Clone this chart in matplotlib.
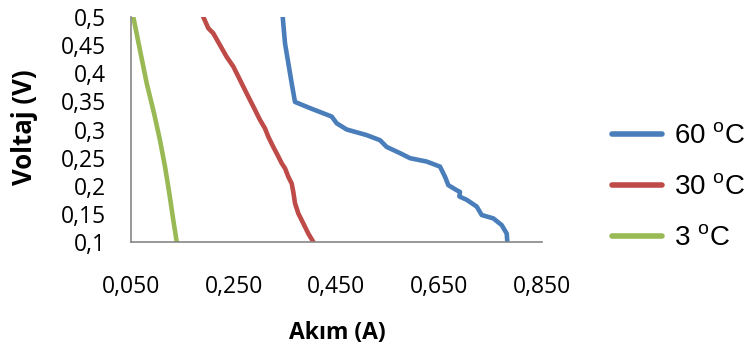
import matplotlib
matplotlib.use("Agg")
import matplotlib.pyplot as plt
from matplotlib.ticker import FixedLocator, FuncFormatter

plt.rcParams["mathtext.fontset"] = "custom"
plt.rcParams["mathtext.rm"] = "Liberation Sans"

# Current (A) and voltage (V) readings for each temperature
current_60 = [0.3453, 0.3498, 0.3562, 0.3628, 0.3692, 0.3984, 0.4407, 0.4504, 0.4699,
              0.5088, 0.5347, 0.5477, 0.5736, 0.5931, 0.6256, 0.6515, 0.6612, 0.6677,
              0.6840, 0.6904, 0.6891, 0.7034, 0.7229, 0.7326, 0.7552, 0.7716, 0.7813, 0.7825]
voltage_60 = [0.500, 0.453, 0.418, 0.382, 0.349, 0.338, 0.323, 0.311, 0.300,
              0.290, 0.281, 0.269, 0.258, 0.249, 0.243, 0.234, 0.216, 0.201,
              0.192, 0.189, 0.181, 0.175, 0.163, 0.148, 0.142, 0.130, 0.115, 0.100]

current_30 = [0.1907, 0.2005, 0.2102, 0.2232, 0.2363, 0.2491, 0.2622, 0.2752, 0.2880,
              0.3011, 0.3108, 0.3173, 0.3270, 0.3367, 0.3433, 0.3498, 0.3562, 0.3628,
              0.3659, 0.3692, 0.3756, 0.3854, 0.3951, 0.4049]
voltage_30 = [0.500, 0.480, 0.471, 0.450, 0.429, 0.412, 0.388, 0.364, 0.341,
              0.317, 0.302, 0.287, 0.269, 0.252, 0.240, 0.231, 0.216, 0.204,
              0.189, 0.169, 0.151, 0.133, 0.115, 0.100]

current_3 = [0.0545, 0.0675, 0.0806, 0.0948, 0.1064, 0.1162, 0.1245, 0.1323, 0.1390]
voltage_3 = [0.500, 0.441, 0.382, 0.329, 0.281, 0.234, 0.187, 0.139, 0.100]

series_labels = [r"60 $^\mathrm{o}$C", r"30 $^\mathrm{o}$C", r"3 $^\mathrm{o}$C"]
series_colors = ["#4A7EBB", "#BE4B48", "#98B954"]

x_ticks = [0.05, 0.25, 0.45, 0.65, 0.85]
y_ticks = [0.1, 0.15, 0.2, 0.25, 0.3, 0.35, 0.4, 0.45, 0.5]
x_label = "Akım (A)"
y_label = "Voltaj (V)"

fig = plt.figure(figsize=(7.51, 3.52), dpi=100)
ax = fig.add_axes([131 / 751, 1 - 242 / 352, 411 / 751, 225 / 352])

series = [(current_60, voltage_60), (current_30, voltage_30), (current_3, voltage_3)]
for (xs, ys), lab, col in zip(series, series_labels, series_colors):
    ax.plot(xs, ys, color=col, lw=3.3, solid_capstyle="round",
            solid_joinstyle="round", label=lab)

ax.set_xlim(0.05, 0.85)
ax.set_ylim(0.1, 0.5)

ax.xaxis.set_major_locator(FixedLocator(x_ticks))
ax.yaxis.set_major_locator(FixedLocator(y_ticks))
ax.xaxis.set_major_formatter(FuncFormatter(lambda v, p: f"{v:.3f}".replace(".", ",")))
ax.yaxis.set_major_formatter(FuncFormatter(lambda v, p: f"{v:g}".replace(".", ",")))

tick_font = "Open Sans"
ax.tick_params(axis="x", length=0, pad=24, labelsize=16.5)
ax.tick_params(axis="y", length=0, pad=18, labelsize=16.5)
for t in ax.get_xticklabels() + ax.get_yticklabels():
    t.set_fontfamily(tick_font)
    t.set_color("#000000")

for side in ("top", "right"):
    ax.spines[side].set_visible(False)
for side in ("left", "bottom"):
    ax.spines[side].set_color("#868686")
    ax.spines[side].set_linewidth(1.2)

fig.text(337 / 751, 1 - 333 / 352, x_label, ha="center", va="center",
         fontsize=16.5, fontweight="bold", family=tick_font)
fig.text(25 / 751, 1 - 127 / 352, y_label, ha="center", va="center", rotation=90,
         fontsize=18.5, fontweight="bold", family=tick_font)

leg = ax.legend(loc="center left", bbox_to_anchor=(612 / 751, 1 - 188 / 352),
                bbox_transform=fig.transFigure, frameon=False,
                prop={"family": "Liberation Sans", "size": 20},
                handlelength=1.8, handletextpad=0.45, labelspacing=0.9,
                borderpad=0, borderaxespad=0)
for line in leg.get_lines():
    line.set_linewidth(4.0)
    line.set_solid_capstyle("round")

fig.savefig("out.png", dpi=100)
